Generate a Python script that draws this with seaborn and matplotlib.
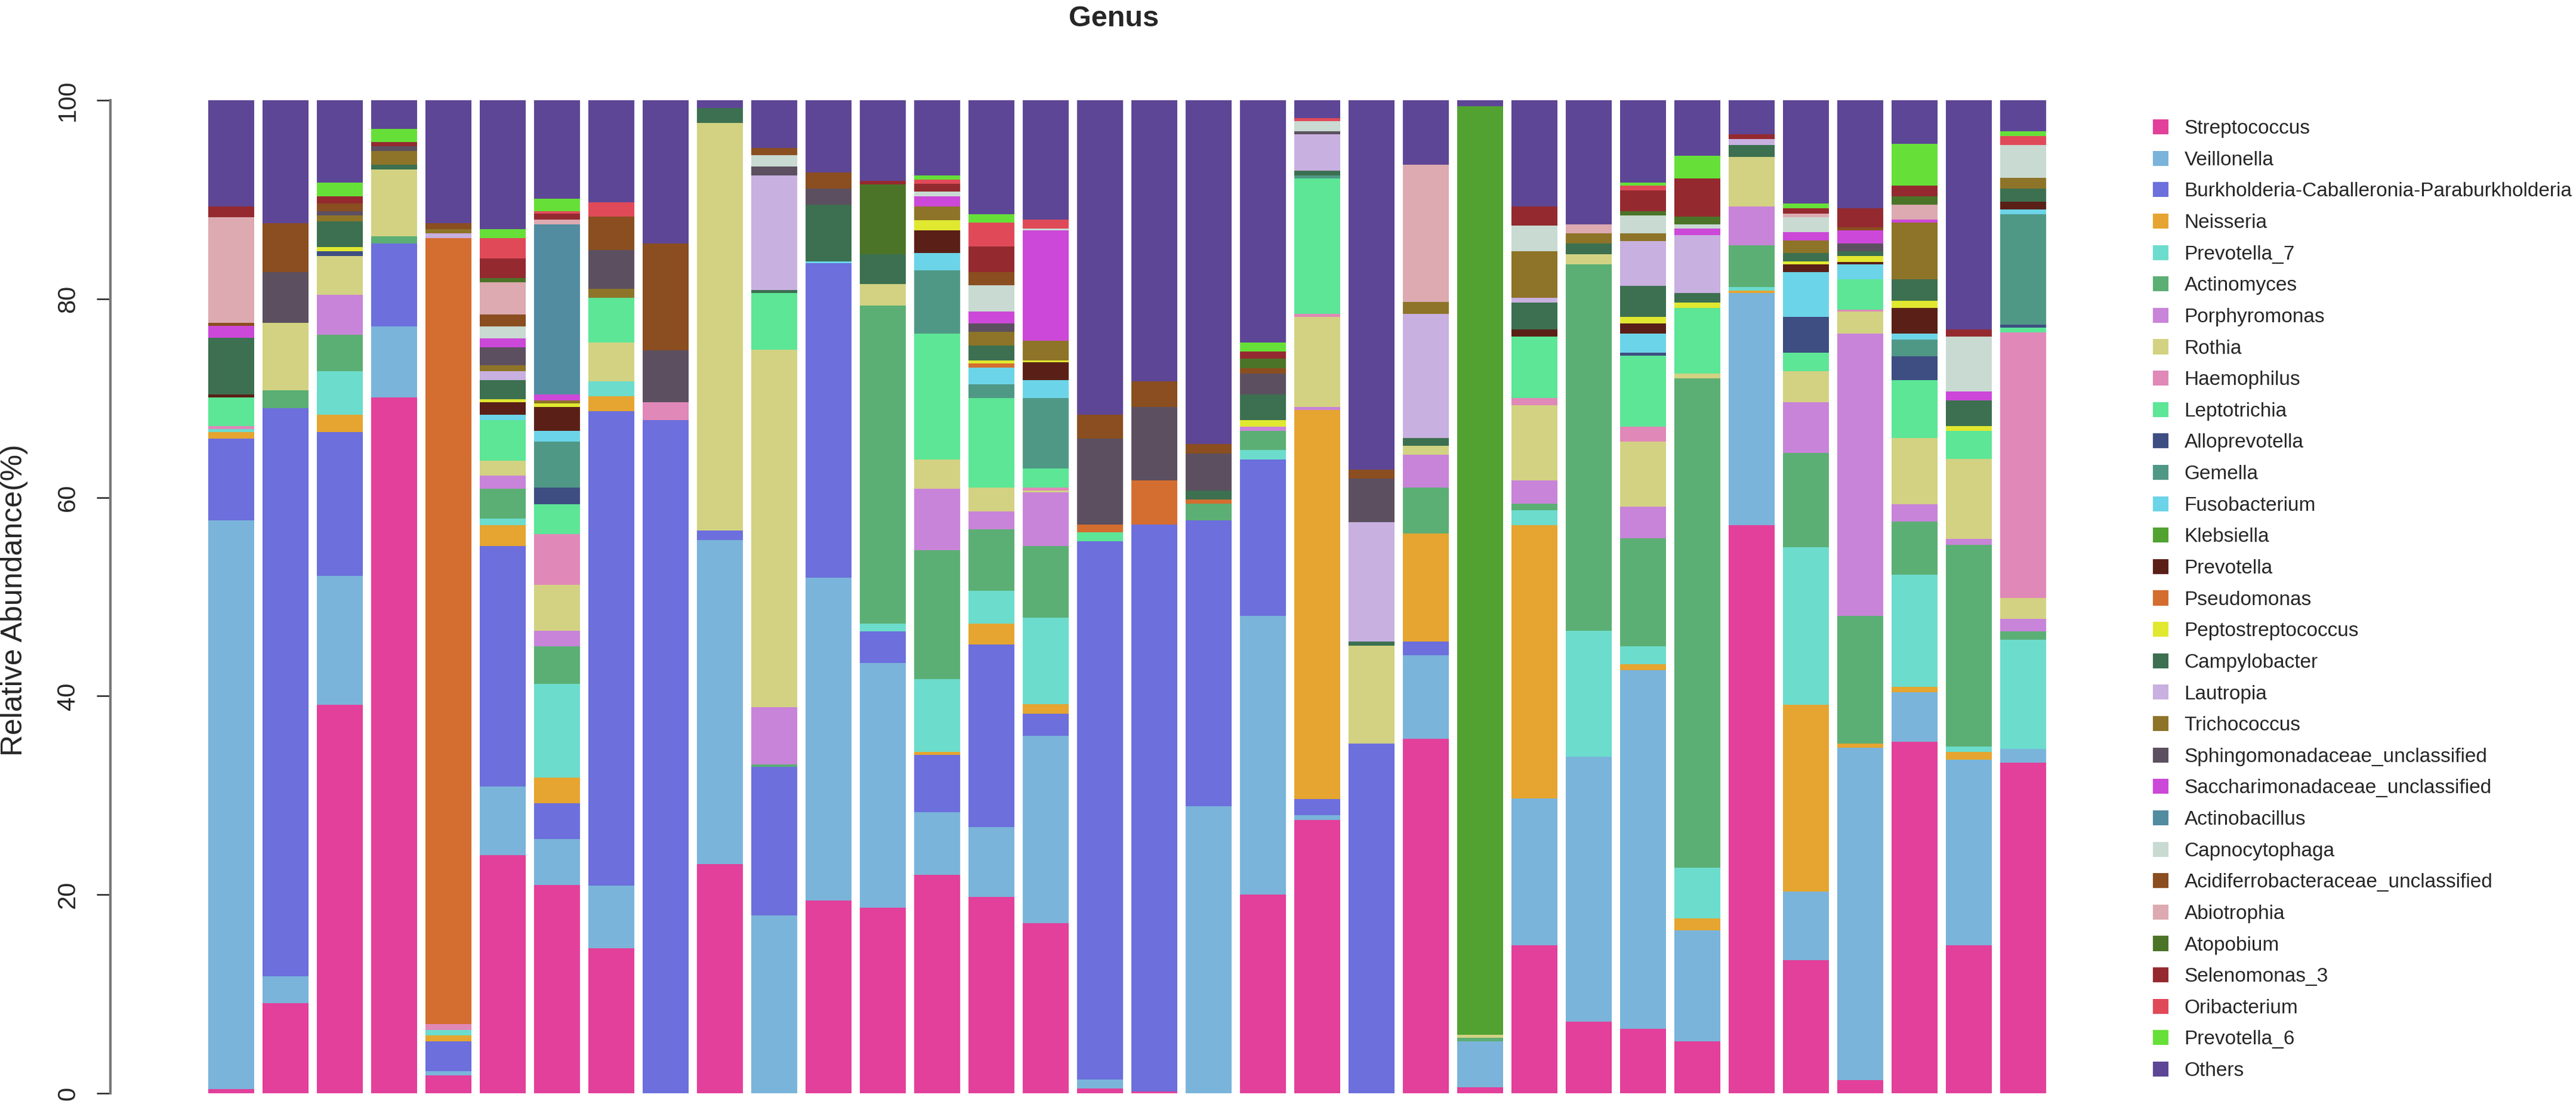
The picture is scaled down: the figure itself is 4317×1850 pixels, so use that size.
import pandas as pd
import matplotlib.pyplot as plt
import seaborn as sns
from matplotlib.patches import Patch

# sample ids (no labels are shown under the bars)
samples = ["S%02d" % (i + 1) for i in range(34)]

genera = ["Streptococcus", "Veillonella", "Burkholderia-Caballeronia-Paraburkholderia",
          "Neisseria", "Prevotella_7", "Actinomyces", "Porphyromonas", "Rothia",
          "Haemophilus", "Leptotrichia", "Alloprevotella", "Gemella", "Fusobacterium",
          "Klebsiella", "Prevotella", "Pseudomonas", "Peptostreptococcus",
          "Campylobacter", "Lautropia", "Trichococcus", "Sphingomonadaceae_unclassified",
          "Saccharimonadaceae_unclassified", "Actinobacillus", "Capnocytophaga",
          "Acidiferrobacteraceae_unclassified", "Abiotrophia", "Atopobium",
          "Selenomonas_3", "Oribacterium", "Prevotella_6", "Others"]

colors = ["#E2409A", "#7AB4DA", "#6C6FDC", "#E5A530", "#6CDCCC", "#5CAF74",
          "#C884D8", "#D2D282", "#E088B8", "#5CE696", "#3E4E82", "#509886",
          "#6CD4E8", "#52A232", "#5A2018", "#D46E30", "#E0E830", "#3C7050",
          "#C8B0E0", "#8E7428", "#5C5060", "#CC48D8", "#528CA0", "#C8DAD2",
          "#8A4E20", "#DCAAB0", "#4C7428", "#942A30", "#E04A58", "#66E038",
          "#5E4696"]

# relative abundance (%) per sample, one list per genus
streptococcus = [0.4, 9.1, 39.1, 70.1, 1.8, 24.0, 21.0, 14.6, 0, 23.1, 0, 19.4, 18.7, 22.0, 19.8, 17.1, 0.5,
                 0.2, 0, 20.0, 27.5, 0, 35.7, 0.6, 14.9, 7.2, 6.5, 5.2, 57.2, 13.4, 1.3, 35.4, 14.9, 33.3]
veillonella = [57.3, 2.7, 13.0, 7.1, 0.4, 6.9, 4.6, 6.3, 0, 32.6, 17.9, 32.5, 24.6, 6.3, 7.0, 18.9, 0.9,
               0, 28.9, 28.1, 0.5, 0, 8.4, 4.6, 14.8, 26.7, 36.1, 11.2, 23.4, 6.9, 33.5, 5.0, 18.7, 1.4]
burkholderia = [8.2, 57.2, 14.5, 8.4, 3.0, 24.2, 3.6, 47.8, 67.8, 1.0, 15.0, 31.7, 3.2, 5.8, 18.4, 2.2, 54.2,
                57.1, 28.8, 15.7, 1.6, 35.2, 1.4, 0, 0, 0, 0, 0, 0, 0, 0, 0, 0, 0]
neisseria = [0.7, 0, 1.7, 0, 0.6, 2.1, 2.6, 1.5, 0, 0, 0, 0, 0, 0.3, 2.1, 1.0, 0,
             0, 0, 0, 39.2, 0, 10.9, 0, 27.5, 0, 0.6, 1.2, 0.2, 18.8, 0.4, 0.5, 0.8, 0]
prevotella_7 = [0.3, 0, 4.4, 0, 0.6, 0.7, 9.4, 1.5, 0, 0, 0, 0, 0.8, 7.3, 3.3, 8.7, 0,
                0, 0, 1.0, 0, 0, 0, 0, 1.5, 12.7, 1.8, 5.1, 0.4, 15.9, 0, 11.3, 0.5, 11.0]
actinomyces = [0, 1.8, 3.7, 0.7, 0, 3.0, 3.8, 0, 0, 0, 0.2, 0, 32.0, 13.0, 6.2, 7.2, 0,
               0, 1.7, 1.9, 0, 0, 4.6, 0.4, 0.7, 36.9, 10.9, 49.3, 4.2, 9.5, 12.9, 5.4, 20.3, 0.8]
porphyromonas = [0, 0, 4.0, 0, 0, 1.3, 1.6, 0, 0, 0, 5.8, 0, 0, 6.2, 1.8, 5.4, 0,
                 0, 0, 0.4, 0.3, 0, 3.3, 0, 2.3, 0, 3.2, 0, 3.9, 5.1, 28.4, 1.7, 0.6, 1.3]
rothia = [0, 6.8, 3.9, 6.7, 0, 1.5, 4.6, 3.9, 0, 41.0, 36.0, 0, 2.2, 2.9, 2.4, 0.2, 0,
          0, 0, 0, 9.1, 9.9, 0.9, 0.3, 7.6, 1.0, 6.5, 0.5, 5.0, 3.1, 2.2, 6.7, 8.1, 2.1]
haemophilus = [0.3, 0, 0, 0, 0.6, 0, 5.1, 0, 1.8, 0, 0, 0, 0, 0, 0, 0.3, 0,
               0, 0, 0, 0.3, 0, 0, 0, 0.7, 0, 1.5, 0, 0, 0, 0.2, 0, 0, 26.7]
leptotrichia = [2.9, 0, 0, 0, 0, 4.1, 3.0, 4.5, 0, 0, 5.7, 0, 0, 12.7, 9.0, 1.9, 0.9,
                0, 0, 0, 13.6, 0, 0, 0, 6.2, 0, 7.2, 6.6, 0, 1.9, 3.1, 5.8, 2.8, 0.5]
alloprevotella = [0, 0, 0.5, 0, 0, 0, 1.7, 0, 0, 0, 0, 0, 0, 0, 0, 0, 0,
                  0, 0, 0, 0, 0, 0, 0, 0, 0, 0.3, 0, 0, 3.6, 0, 2.4, 0, 0.3]
gemella = [0, 0, 0, 0, 0, 0, 4.6, 0, 0, 0, 0, 0, 0, 6.4, 1.4, 7.1, 0,
           0, 0, 0, 0.3, 0, 0, 0, 0, 0, 0, 0, 0, 0, 0, 1.7, 0, 11.1]
fusobacterium = [0, 0, 0, 0, 0, 0.5, 1.1, 0, 0, 0, 0, 0.2, 0, 1.7, 1.7, 1.8, 0,
                 0, 0, 0, 0, 0, 0, 0, 0, 0, 1.9, 0, 0, 4.5, 1.5, 0.6, 0, 0.5]
klebsiella = [0, 0, 0, 0, 0, 0, 0, 0, 0, 0, 0, 0, 0, 0, 0, 0, 0,
              0, 0, 0, 0, 0, 0, 93.5, 0, 0, 0, 0, 0, 0, 0, 0, 0, 0]
prevotella = [0.3, 0, 0, 0, 0, 1.3, 2.4, 0, 0, 0, 0, 0, 0, 2.3, 0, 1.8, 0,
              0, 0, 0, 0, 0, 0, 0, 0.7, 0, 1.0, 0, 0, 0.8, 0.2, 2.6, 0, 0.8]
pseudomonas = [0, 0, 0, 0, 79.1, 0, 0, 0, 0, 0, 0, 0, 0, 0, 0.4, 0, 0.8,
               4.4, 0.4, 0, 0, 0, 0, 0, 0, 0, 0, 0, 0, 0, 0, 0, 0, 0]
peptostreptococcus = [0, 0, 0.4, 0, 0, 0.3, 0.4, 0, 0, 0, 0, 0, 0, 1.0, 0.3, 0.2, 0,
                      0, 0, 0.7, 0, 0, 0, 0, 0, 0, 0.7, 0.5, 0, 0.3, 0.6, 0.7, 0.5, 0]
campylobacter = [5.7, 0, 2.6, 0.5, 0, 1.9, 0, 0, 0, 1.5, 0.3, 5.7, 3.0, 0, 1.5, 0, 0,
                 0, 0.9, 2.6, 0.5, 0.4, 0.8, 0, 2.7, 1.1, 3.1, 1.0, 1.2, 0.8, 0.5, 2.2, 2.6, 1.3]
lautropia = [0, 0, 0, 0, 0.5, 0.9, 0, 0, 0, 0, 11.5, 0, 0, 0, 0, 0, 0,
             0, 0, 0, 3.7, 12.0, 12.5, 0, 0.5, 0, 4.5, 5.8, 0.6, 0, 0, 0, 0, 0]
trichococcus = [0, 0, 0.6, 1.4, 0.4, 0.6, 0.3, 0.9, 0, 0, 0, 0, 0, 1.4, 1.4, 2.0, 0,
                0, 0, 0, 0, 0, 1.2, 0, 4.7, 1.0, 0.8, 0, 0, 1.3, 0, 5.7, 0, 1.1]
sphingomonadaceae = [0, 5.1, 0.4, 0.5, 0, 1.8, 0, 3.9, 5.2, 0, 0.9, 1.6, 0, 0, 0.8, 0, 8.6,
                     7.4, 3.7, 2.1, 0.3, 4.4, 0, 0, 0, 0, 0, 0, 0, 0, 0.8, 0, 0, 0]
saccharimonadaceae = [1.2, 0, 0, 0, 0, 0.9, 0.6, 0, 0, 0, 0, 0, 0, 1.0, 1.2, 11.1, 0,
                      0, 0, 0, 0, 0, 0, 0, 0, 0, 0, 0.7, 0, 0.8, 1.3, 0.3, 0.9, 0]
actinobacillus = [0, 0, 0, 0, 0, 0, 17.1, 0, 0, 0, 0, 0, 0, 0, 0, 0, 0,
                  0, 0, 0, 0, 0, 0, 0, 0, 0, 0, 0, 0, 0, 0, 0, 0, 0]
capnocytophaga = [0, 0, 0, 0, 0, 1.2, 0, 0, 0, 0, 1.2, 0, 0, 0.5, 2.7, 0.2, 0,
                  0, 0, 0, 1.0, 0, 0, 0, 2.6, 0, 1.8, 0.4, 0, 1.5, 0, 0, 5.5, 3.3]
acidiferrobacteraceae = [0.3, 4.9, 0.8, 0, 0.6, 1.2, 0, 3.4, 10.8, 0, 0.7, 1.6, 0, 0, 1.3, 0, 2.4,
                         2.6, 1.0, 0.5, 0, 0.9, 0, 0, 0, 0, 0, 0, 0, 0, 0.3, 0, 0, 0]
abiotrophia = [10.6, 0, 0, 0, 0, 3.3, 0.5, 0, 0, 0, 0, 0, 0, 0, 0, 0, 0,
               0, 0, 0, 0, 0, 13.8, 0, 0, 0.9, 0, 0, 0, 0.4, 0, 1.5, 0, 0]
atopobium = [0, 0, 0, 0, 0, 0.4, 0, 0, 0, 0, 0, 0, 7.0, 0, 0, 0, 0,
             0, 0, 1.0, 0, 0, 0, 0, 0, 0, 0.4, 0.8, 0, 0, 0, 0.8, 0, 0]
selenomonas_3 = [1.1, 0, 0.7, 0.4, 0, 2.0, 0.6, 0, 0, 0, 0, 0, 0.4, 0.8, 2.6, 0, 0,
                 0, 0, 0.7, 0, 0, 0, 0, 1.9, 0, 2.1, 3.8, 0.5, 0.5, 1.9, 1.1, 0.7, 0]
oribacterium = [0, 0, 0, 0, 0, 2.0, 0.2, 1.4, 0, 0, 0, 0, 0, 0.4, 2.4, 0.9, 0,
                0, 0, 0, 0.3, 0, 0, 0, 0, 0, 0.5, 0, 0, 0, 0, 0, 0, 0.9]
prevotella_6 = [0, 0, 1.4, 1.3, 0, 0.9, 1.3, 0, 0, 0, 0, 0, 0, 0.4, 0.8, 0, 0,
                0, 0, 0.9, 0, 0, 0, 0, 0, 0, 0.3, 2.3, 0, 0.5, 0, 4.2, 0, 0.5]
others = [10.7, 12.4, 8.3, 2.9, 12.4, 13.0, 9.9, 10.3, 14.4, 0.8, 4.8, 7.3, 8.1, 7.6, 11.5, 12.0, 31.7,
          28.3, 34.6, 24.4, 1.8, 37.2, 6.5, 0.6, 10.7, 12.5, 8.3, 5.6, 3.4, 10.4, 10.9, 4.4, 23.1, 3.1]

series = [streptococcus, veillonella, burkholderia, neisseria, prevotella_7, actinomyces,
          porphyromonas, rothia, haemophilus, leptotrichia, alloprevotella, gemella,
          fusobacterium, klebsiella, prevotella, pseudomonas, peptostreptococcus,
          campylobacter, lautropia, trichococcus, sphingomonadaceae, saccharimonadaceae,
          actinobacillus, capnocytophaga, acidiferrobacteraceae, abiotrophia, atopobium,
          selenomonas_3, oribacterium, prevotella_6, others]

df = pd.DataFrame(dict(zip(genera, series)), index=samples)
cum = df.cumsum(axis=1)

sns.set_style("white")
plt.rcParams['font.family'] = ['Liberation Sans', 'DejaVu Sans']

W, H = 4317, 1850
fig = plt.figure(figsize=(W / 100, H / 100), dpi=100)
ax = fig.add_axes([185 / W, (H - 1832) / H, (3450 - 185) / W, (1832 - 168) / H])

# stacked bars: draw tallest cumulative first, lower segments on top
for genus, col in reversed(list(zip(genera, colors))):
    sns.barplot(x=samples, y=cum[genus].values, color=col, saturation=1,
                width=0.846, linewidth=0, errorbar=None, ax=ax)

ax.set_xlim(-2.225, 33.654)
ax.set_ylim(0, 100)
ax.set_xticks([])
ax.set_xlabel("")
ax.set_ylabel("")
ax.set_yticks([0, 20, 40, 60, 80, 100])
ax.tick_params(axis='y', length=16.5, width=1.8, color='#222222', labelsize=30,
               pad=20, labelrotation=90, direction='out', left=True)
for lbl in ax.get_yticklabels():
    lbl.set_va('center')
for s in ['top', 'right', 'bottom']:
    ax.spines[s].set_visible(False)
ax.spines['left'].set_color('#777777')
ax.spines['left'].set_linewidth(3)

fig.text(1867 / W, 1 - 32 / H, "Genus", ha='center', va='center',
         fontsize=35, fontweight='bold')
fig.text(24 / W, 1 - 1006 / H, "Relative Abundance(%)", rotation=90,
         ha='center', va='center', fontsize=36)

handles = [Patch(facecolor=c, edgecolor='none') for c in colors]
fig.legend(handles, genera, loc='upper left', bbox_to_anchor=(3608 / W, 1 - 200 / H),
           frameon=False, fontsize=24, handlelength=0.78, handleheight=0.78,
           handletextpad=0.8, labelspacing=0.645, borderpad=0, borderaxespad=0)

fig.savefig("out.png", dpi=100)
